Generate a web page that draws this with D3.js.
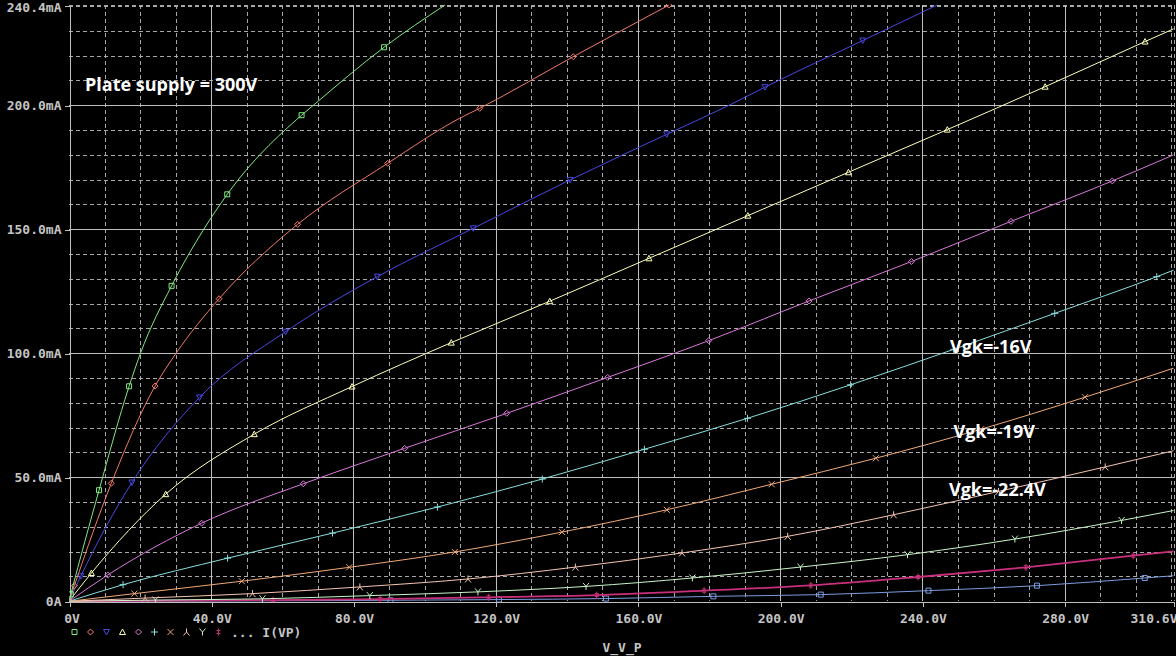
<!DOCTYPE html>
<html><head><meta charset="utf-8">
<script src="https://cdn.jsdelivr.net/npm/d3@7"></script>
<style>html,body{margin:0;padding:0;background:#000;overflow:hidden}</style>
</head><body>
<svg id="c" width="1176" height="656"></svg>
<script>
// ---- data ----
const xTickValues = [0, 40, 80, 120, 160, 200, 240, 280, 310.6];
const xTickLabels = ["0V", "40.0V", "80.0V", "120.0V", "160.0V", "200.0V", "240.0V", "280.0V", "310.6V"];
const yTickValues = [0, 50, 100, 150, 200, 240.4];
const yTickLabels = ["0A", "50.0mA", "100.0mA", "150.0mA", "200.0mA", "240.4mA"];
const xMinorStep = 10, yMinorStep = 10;
const xDomain = [0, 310.6], yDomain = [0, 240.4];

const t1Pts = [[0,0],[20.1,100],[37.9,150],[68.7,200],[105.7,240.4]];
const t1Marks = [[0.5,2.8],[8.45,44.8],[16.9,86.7],[28.85,127.2],[44.5,164.1],[65.4,196],[88.6,223.4]];
const t2Pts = [[0,0],[30.1,100],[62.6,150],[109.9,194.8]];
const t2Marks = [[1.5,6.3],[11.9,47.6],[24.2,86.8],[42.2,122],[64.3,152],[89.6,176.6],[115.5,198.8],[141.8,219.6],[168.7,240.4]];
const t3Pts = [[0,0],[185.6,200],[244.1,240.4]];
const t3Marks = [[3.3,10.1],[17.7,47.9],[36.7,82.2],[60.9,108.7],[86.7,130.9],[113.7,150.4],[140.9,169.9],[168.1,188.3],[195.7,207.3],[223.2,226.1]];
const t4Pts = [[0,0],[310.6,230.8]];
const t4Marks = [[6.3,11.4],[27.2,43.2],[52.1,67.4],[79.6,86.6],[107.5,104.3],[135.2,121],[163.1,138.3],[190.9,155.5],[219.2,173],[247,190.2],[274.5,207.5],[302.6,225.7]];
const t5Pts = [[0,0],[310.6,180]];
const t5Marks = [[10.9,10.6],[37.3,31.5],[65.9,47.4],[94.4,61.7],[123.1,75.8],[151.5,90.3],[179.9,105.1],[208.1,121.1],[236.9,137],[264.9,153.2],[293.4,169.5]];
const t6Pts = [[0,0],[310.6,133.5]];
const t6Marks = [[15.2,6.7],[44.6,17.4],[74.1,27.5],[103.6,38],[133.1,49.3],[161.8,61.3],[190.8,73.8],[219.8,87.3],[248.8,101.6],[277.2,116.1],[305.9,130.9]];
const t7Pts = [[0,0],[310.6,94]];
const t7Marks = [[18.4,3.1],[48.6,8.1],[78.8,13.7],[108.5,19.9],[138.6,27.9],[168.1,36.9],[197.6,47.2],[226.9,57.7],[256.5,69.4],[285.7,82.3]];
const t8Pts = [[0,0],[310.6,60.7]];
const t8Marks = [[21.4,1.3],[51.6,3.1],[81.8,5.8],[112.2,9],[142.4,13.8],[172.4,19.5],[202.1,26.2],[231.9,34.9],[261.4,44.3],[291.4,54.2]];
const t9Pts = [[0,0],[310.6,36.6]];
const t9Marks = [[24.3,0.5],[54.4,1.0],[84.6,2.3],[115,3.8],[145.4,6],[175.3,9.4],[205.7,13.8],[235.8,18.8],[266,25.1],[296,32.6]];
const t10Pts = [[0,0],[310.6,20.1]];
const t10Marks = [[57.4,0.5],[87.5,0.9],[118,1.6],[148.4,2.5],[178.6,4.3],[208.6,6.4],[238.8,9.8],[269.1,13.7],[299.3,18.4]];
const t11Pts = [[0,0],[310.6,10.3]];
const t11Marks = [[90.4,0.4],[120.9,0.7],[151,1.1],[181.2,2],[211.4,2.7],[241.7,4.3],[272.2,6.3],[302.5,9.4]];

const annotations = ["Plate supply = 300V", "Vgk=-16V", "Vgk=-19V", "Vgk=-22.4V"];
const legendText = "... I(VP)";
const xAxisTitle = "V_V_P";

// ---- styles ----
const traceStyles = [
  {c:"#80e880", m:"square"}, {c:"#f07a6a", m:"diamond"}, {c:"#4848e0", m:"tridown"},
  {c:"#ffffb8", m:"triup"}, {c:"#d878d8", m:"diamond"}, {c:"#88dede", m:"plus"},
  {c:"#eeaa78", m:"cross"}, {c:"#f4c4b0", m:"lambda"}, {c:"#c8f4c8", m:"ysym"},
  {c:"#c8307c", m:"dagger", w:1.8}, {c:"#7c9ce0", m:"square"}
];
const traces = [
  [t1Pts,t1Marks],[t2Pts,t2Marks],[t3Pts,t3Marks],[t4Pts,t4Marks],[t5Pts,t5Marks],
  [t6Pts,t6Marks],[t7Pts,t7Marks],[t8Pts,t8Marks],[t9Pts,t9Marks],[t10Pts,t10Marks],[t11Pts,t11Marks]
].map((p,i)=>({pts:p[0], marks:p[1], ...traceStyles[i]}));

const markerPaths = {
  square:"M-2.5,-2.5H2.5V2.5H-2.5Z",
  diamond:"M0,-3L3,0L0,3L-3,0Z",
  tridown:"M-3,-2.5H3L0,3Z",
  triup:"M-3,2.5H3L0,-3Z",
  plus:"M-3.5,0H3.5M0,-3.5V3.5",
  cross:"M-3,-3L3,3M-3,3L3,-3",
  lambda:"M0,-3.5V0M-3,3.5L0,0L3,3.5",
  ysym:"M-3,-3.5L0,0L3,-3.5M0,0V3.5",
  dagger:"M0,-3.5V3.5M-2,-1.5H2M-2,1.5H2"
};

const svg = d3.select("#c");
svg.append("rect").attr("width",1176).attr("height",656).attr("fill","#000");

const x = d3.scaleLinear().domain(xDomain).range([69, 1173.5]);
const y = d3.scaleLinear().domain(yDomain).range([601.3, 5.1]);
const px = v => Math.round(x(v)) + 0.5;
const py = v => Math.round(y(v)) + 0.5;

// grid
const g = svg.append("g").attr("shape-rendering","crispEdges");
const xMinor = d3.range(0, xDomain[1], xMinorStep).filter(v => v % 40 !== 0).concat([xDomain[1]]);
const yMinor = d3.range(0, yDomain[1], yMinorStep).filter(v => v % 50 !== 0).concat([yDomain[1]]);
g.selectAll(".xm").data(xMinor).join("line")
  .attr("x1",px).attr("x2",px).attr("y1",y(yDomain[1])).attr("y2",y(0))
  .attr("stroke","#a8a8a8").attr("stroke-dasharray","4,3");
g.selectAll(".ym").data(yMinor).join("line")
  .attr("y1",py).attr("y2",py).attr("x1",x(0)).attr("x2",x(xDomain[1]))
  .attr("stroke","#a8a8a8").attr("stroke-dasharray","4,3");
g.selectAll(".xM").data(xTickValues.slice(1, -1)).join("line")
  .attr("x1",px).attr("x2",px).attr("y1",y(yDomain[1])).attr("y2",y(0))
  .attr("stroke","#bebebe");
g.selectAll(".yM").data(yTickValues.slice(1, -1)).join("line")
  .attr("y1",py).attr("y2",py).attr("x1",x(0)).attr("x2",x(xDomain[1]))
  .attr("stroke","#bebebe");

// axes
const font = "'DejaVu Sans Mono', monospace";
const xAxis = d3.axisBottom(x).tickValues(xTickValues).tickFormat((d,i)=>xTickLabels[i]).tickSize(5).tickSizeOuter(0).tickPadding(7);
const yAxis = d3.axisLeft(y).tickValues(yTickValues).tickFormat((d,i)=>yTickLabels[i]).tickSize(5).tickSizeOuter(0).tickPadding(3);
const xa = svg.append("g").attr("transform",`translate(0.5,${Math.round(y(0))+0.5})`).call(xAxis);
const ya = svg.append("g").attr("transform",`translate(${Math.round(x(0))+0.5},0.5)`).call(yAxis);
[xa, ya].forEach(a => {
  a.attr("shape-rendering","crispEdges");
  a.selectAll("path,line").attr("stroke","#c0c0c0");
  a.selectAll("text").attr("fill","#c4c4c4").style("font-family",font).style("font-size","13px").style("font-weight","bold");
});
xa.selectAll(".tick text").filter((d,i)=> i === xTickValues.length-1).attr("text-anchor","end").attr("dx","3");
xa.selectAll(".tick text").filter((d,i)=> i === 0).attr("dx","2");
ya.selectAll(".tick text").filter((d,i)=> i === yTickValues.length-1).attr("dy","0.45em");

// traces
svg.append("clipPath").attr("id","clip").append("rect")
  .attr("x",x(0)).attr("y",y(yDomain[1])-1).attr("width",x(xDomain[1])-x(0)+1).attr("height",y(0)-y(yDomain[1])+2);
const tg = svg.append("g").attr("clip-path","url(#clip)");
const line = d3.line().x(d=>x(d[0])).y(d=>y(d[1])).curve(d3.curveMonotoneX);
traces.slice().reverse().forEach(t => {
  const all = t.pts.concat(t.marks).sort((a,b)=>a[0]-b[0]);
  tg.append("path").attr("d", line(all)).attr("fill","none").attr("stroke",t.c).attr("stroke-width",t.w||1);
  tg.selectAll(null).data(t.marks).join("path")
    .attr("transform", d=>`translate(${x(d[0])},${y(d[1])})`)
    .attr("d", markerPaths[t.m]).attr("fill","none").attr("stroke",t.c).attr("stroke-width",1);
});

// legend
const lg = svg.append("g");
traceStyles.slice(0,10).forEach((s,i) => {
  lg.append("path").attr("transform",`translate(${74.5+i*16},632)`).attr("d",markerPaths[s.m])
    .attr("fill","none").attr("stroke",s.c).attr("stroke-width",1);
});
lg.append("text").attr("x",231).attr("y",636.5).text(legendText)
  .attr("fill","#c4c4c4").style("font-family",font).style("font-size","13px").style("font-weight","bold");
svg.append("text").attr("x",622).attr("y",652).attr("text-anchor","middle").text(xAxisTitle)
  .attr("fill","#c4c4c4").style("font-family",font).style("font-size","13px").style("font-weight","bold");

// annotations
const annPos = [[85,91],[950,352.5],[953.5,438],[949,496]];
annotations.forEach((t,i) => {
  svg.append("text").attr("x",annPos[i][0]).attr("y",annPos[i][1]).text(t)
    .attr("fill","#ffffff").style("font-family","'Open Sans', sans-serif").style("font-size","18px").style("font-weight","bold");
});
</script>
</body></html>
